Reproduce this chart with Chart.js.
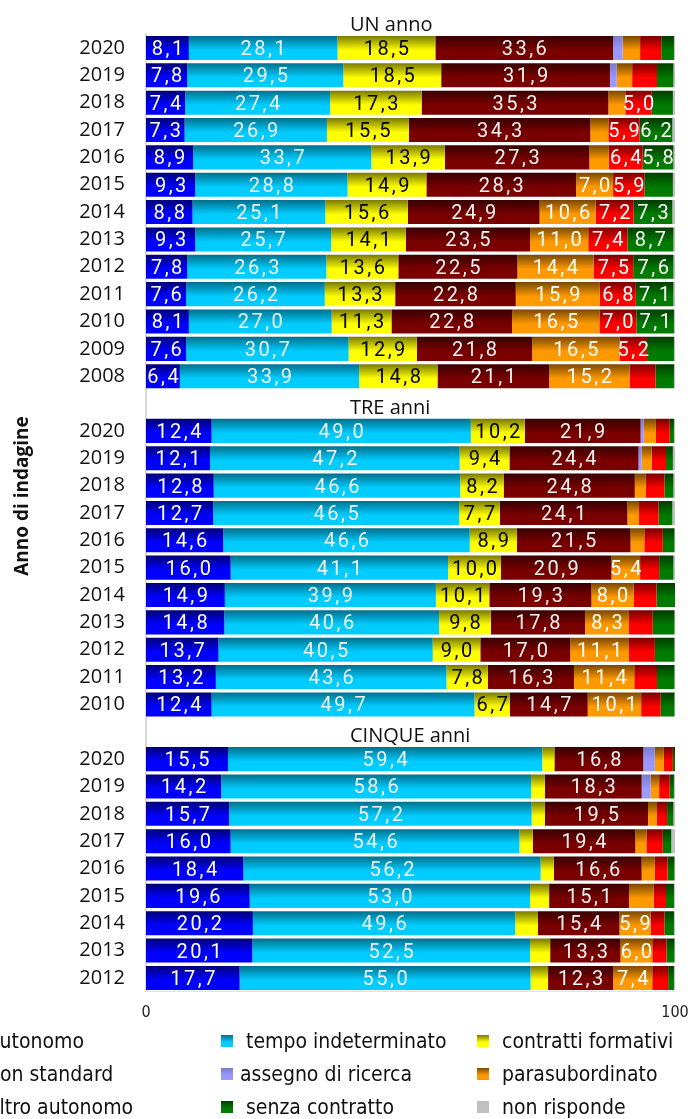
<!DOCTYPE html>
<html>
<head>
<meta charset="utf-8">
<script src="https://cdn.jsdelivr.net/npm/chart.js@4"></script>
<style>
  html, body { margin: 0; padding: 0; background: #fff; overflow: hidden; }
  canvas { display: block; }
</style>
</head>
<body>
<canvas id="chart" width="690" height="1119"></canvas>
<script>
// Rows: survey years per follow-up group; '' rows hold the group headings.
const groupTitles = ['UN anno', 'TRE anni', 'CINQUE anni'];
const years = [
  '2020','2019','2018','2017','2016','2015','2014','2013','2012','2011','2010','2009','2008',
  '',
  '2020','2019','2018','2017','2016','2015','2014','2013','2012','2011','2010',
  '',
  '2020','2019','2018','2017','2016','2015','2014','2013','2012'
];

// Legend entries (the leading blank is part of the label text).
const seriesNames = [
  ' autonomo', ' tempo indeterminato', ' contratti formativi',
  ' non standard', 'assegno di ricerca', ' parasubordinato',
  ' altro autonomo', ' senza contratto', ' non risponde'
];

// Percent shares, one value per row.
const autonomo = [8.1,7.8,7.4,7.3,8.9,9.3,8.8,9.3,7.8,7.6,8.1,7.6,6.4, null,
  12.4,12.1,12.8,12.7,14.6,16.0,14.9,14.8,13.7,13.2,12.4, null,
  15.5,14.2,15.7,16.0,18.4,19.6,20.2,20.1,17.7];
const tempoIndeterminato = [28.1,29.5,27.4,26.9,33.7,28.8,25.1,25.7,26.3,26.2,27.0,30.7,33.9, null,
  49.0,47.2,46.6,46.5,46.6,41.1,39.9,40.6,40.5,43.6,49.7, null,
  59.4,58.6,57.2,54.6,56.2,53.0,49.6,52.5,55.0];
const contrattiFormativi = [18.5,18.5,17.3,15.5,13.9,14.9,15.6,14.1,13.6,13.3,11.3,12.9,14.8, null,
  10.2,9.4,8.2,7.7,8.9,10.0,10.1,9.8,9.0,7.8,6.7, null,
  2.3,2.6,2.5,2.5,2.5,3.6,4.3,3.8,3.3];
const nonStandard = [33.6,31.9,35.3,34.3,27.3,28.3,24.9,23.5,22.5,22.8,22.8,21.8,21.1, null,
  21.9,24.4,24.8,24.1,21.5,20.9,19.3,17.8,17.0,16.3,14.7, null,
  16.8,18.3,19.5,19.4,16.6,15.1,15.4,13.3,12.3];
const assegnoRicerca = [1.8,1.3,null,null,null,null,null,null,null,null,null,null,null, null,
  0.6,0.6,null,null,null,null,null,null,null,null,null, null,
  2.2,1.7,null,null,null,null,null,null,null];
const parasubordinato = [3.3,2.9,3.2,3.4,3.7,7.0,10.6,11.0,14.4,15.9,16.5,16.5,15.2, null,
  2.3,1.9,2.1,2.2,2.6,5.4,8.0,8.3,11.1,11.4,10.1, null,
  1.7,1.6,1.7,2.1,2.5,4.7,5.9,6.0,7.4];
const altroAutonomo = [4.0,4.7,5.0,5.9,6.4,5.9,7.2,7.4,7.5,6.8,7.0,5.2,4.9, null,
  2.6,2.7,3.5,3.7,3.5,3.6,4.3,4.5,4.9,4.3,3.7, null,
  1.7,2.0,1.9,3.1,2.4,2.3,2.6,2.7,3.0];
const senzaContratto = [2.4,3.1,4.0,6.2,5.8,5.4,7.3,8.7,7.6,7.1,7.1,5.1,3.5, null,
  0.8,1.3,1.7,2.6,2.2,2.7,3.5,4.1,3.7,3.3,2.6, null,
  0.4,0.8,1.2,1.6,1.3,1.5,1.8,1.5,1.1];
const nonRisponde = [0.2,0.3,0.4,0.5,0.3,0.4,0.5,0.3,0.3,0.3,0.2,0.2,0.2, null,
  0.2,0.4,0.3,0.5,0.1,0.3,0.0,0.1,0.1,0.1,0.1, null,
  0.0,0.2,0.3,0.7,0.1,0.2,0.2,0.1,0.2];

const seriesValues = [autonomo, tempoIndeterminato, contrattiFormativi, nonStandard,
  assegnoRicerca, parasubordinato, altroAutonomo, senzaContratto, nonRisponde];

// Vertical two-tone fills: darker shade at the top edge, full colour below.
const fillTop    = ['#000078','#00708c','#7a7a00','#380000','#7a7acc','#7a4800','#7a0000','#003c00','#c0c0c0'];
const fillBottom = ['#0000ff','#00ccff','#ffff00','#7a0000','#9999ff','#ff9900','#ff0000','#007a00','#c0c0c0'];
const labelColor = ['#fff','#f2f2f2','#000','#f2f2f2','#fff','#fff','#fff','#fff','#000'];

// Segments of at least this size carry their value; listed [row, series] pairs stay unlabeled.
const LABEL_MIN = 5;
const unlabeled = [[5, 7], [11, 7]];

function verticalFill(ctx2d, i, top, bottom) {
  const g = ctx2d.createLinearGradient(0, top, 0, bottom);
  g.addColorStop(0, fillTop[i]);
  g.addColorStop(0.6, fillBottom[i]);
  g.addColorStop(1, fillBottom[i]);
  return g;
}

const BAR_FRACTION = 0.88;

function barFill(i) {
  return (c) => {
    if (c.type !== 'data') return fillBottom[i];
    const ys = c.chart.scales.y;
    if (!ys) return fillBottom[i];
    const center = ys.getPixelForValue(c.dataIndex);
    const pitch = Math.abs(ys.getPixelForValue(1) - ys.getPixelForValue(0));
    if (!isFinite(center) || !isFinite(pitch) || pitch === 0) return fillBottom[i];
    const h = pitch * BAR_FRACTION;
    return verticalFill(c.chart.ctx, i, center - h / 2, center + h / 2);
  };
}

const fmt = v => v.toFixed(1).replace('.', ',');

const valueLabels = {
  id: 'valueLabels',
  afterDatasetsDraw(chart) {
    const ctx = chart.ctx;
    ctx.save();
    ctx.font = '20px Roboto';
    ctx.letterSpacing = '2.5px';
    ctx.textAlign = 'center';
    ctx.textBaseline = 'alphabetic';
    chart.data.datasets.forEach((ds, si) => {
      const meta = chart.getDatasetMeta(si);
      meta.data.forEach((bar, ri) => {
        const v = ds.data[ri];
        if (v == null || v < LABEL_MIN) return;
        if (unlabeled.some(p => p[0] === ri && p[1] === si)) return;
        ctx.fillStyle = labelColor[si];
        ctx.fillText(fmt(v), (bar.x + bar.base) / 2 + 1.25, bar.y + 7);
      });
    });
    ctx.restore();
  }
};

const groupHeadings = {
  id: 'groupHeadings',
  afterDraw(chart) {
    const ys = chart.scales.y;
    const ctx = chart.ctx;
    const pitch = Math.abs(ys.getPixelForValue(1) - ys.getPixelForValue(0));
    const slots = [-1];
    years.forEach((y, i) => { if (y === '') slots.push(i); });
    ctx.save();
    ctx.font = '20px "Open Sans"';
    ctx.fillStyle = '#111';
    ctx.textAlign = 'left';
    ctx.textBaseline = 'alphabetic';
    slots.forEach((s, k) => {
      const cy = ys.getPixelForValue(0) + s * pitch + 3.5;
      ctx.fillText(groupTitles[k], chart.chartArea.left + 204, cy + 7);
    });
    // vertical axis title
    ctx.font = 'bold 19px "Open Sans"';
    ctx.textAlign = 'center';
    ctx.textBaseline = 'middle';
    ctx.translate(23, (chart.chartArea.top + chart.chartArea.bottom) / 2 - 17);
    ctx.rotate(-Math.PI / 2);
    ctx.fillText('Anno di indagine', 0, 0);
    ctx.restore();
  }
};

// Three-column legend under the axis (the first column runs past the left edge).
const LEGEND_COL_X = [-37, 221, 477], LEGEND_Y0 = 1048, LEGEND_ROW_H = 33, SWATCH = 12;
const gridLegend = {
  id: 'gridLegend',
  afterDraw(chart) {
    const ctx = chart.ctx;
    ctx.save();
    ctx.font = '21px "DejaVu Sans Condensed"';
    ctx.textAlign = 'left';
    ctx.textBaseline = 'alphabetic';
    seriesNames.forEach((name, i) => {
      const col = i % 3, row = Math.floor(i / 3);
      const x = LEGEND_COL_X[col];
      const base = LEGEND_Y0 + row * LEGEND_ROW_H;
      const top = base - 13;
      ctx.fillStyle = verticalFill(ctx, i, top, top + SWATCH);
      ctx.fillRect(x, top, SWATCH, SWATCH);
      ctx.fillStyle = '#111';
      ctx.fillText(name, x + 19, base);
    });
    ctx.restore();
  }
};

new Chart(document.getElementById('chart'), {
  type: 'bar',
  data: {
    labels: years,
    datasets: seriesValues.map((vals, i) => ({
      label: seriesNames[i],
      data: vals,
      backgroundColor: barFill(i),
      borderWidth: 0,
      categoryPercentage: 1,
      barPercentage: BAR_FRACTION
    }))
  },
  options: {
    indexAxis: 'y',
    responsive: false,
    animation: false,
    devicePixelRatio: 1,
    layout: { padding: { left: 0, right: 15, top: 34.3, bottom: 97.4 } },
    plugins: {
      legend: { display: false },
      tooltip: { enabled: false },
      title: { display: false }
    },
    scales: {
      x: {
        stacked: true,
        min: 0,
        max: 100,
        grid: { display: false, drawTicks: false },
        border: { display: true, color: '#e3e3e3', width: 1 },
        ticks: {
          stepSize: 100,
          padding: 12,
          color: '#222',
          font: { family: '"DejaVu Sans Condensed"', size: 16 }
        },
        afterFit: s => { s.height = 30; s.paddingLeft = 0; s.paddingRight = 0; }
      },
      y: {
        stacked: true,
        grid: { display: false, drawTicks: false },
        border: { display: true, color: '#d9d9d9', width: 2 },
        ticks: {
          autoSkip: false,
          padding: 21,
          color: '#111',
          font: { family: '"Open Sans"', size: 20 }
        },
        afterFit: s => { s.width = 146; s.paddingTop = 0; s.paddingBottom = 0; }
      }
    }
  },
  plugins: [valueLabels, groupHeadings, gridLegend]
});
</script>
</body>
</html>
